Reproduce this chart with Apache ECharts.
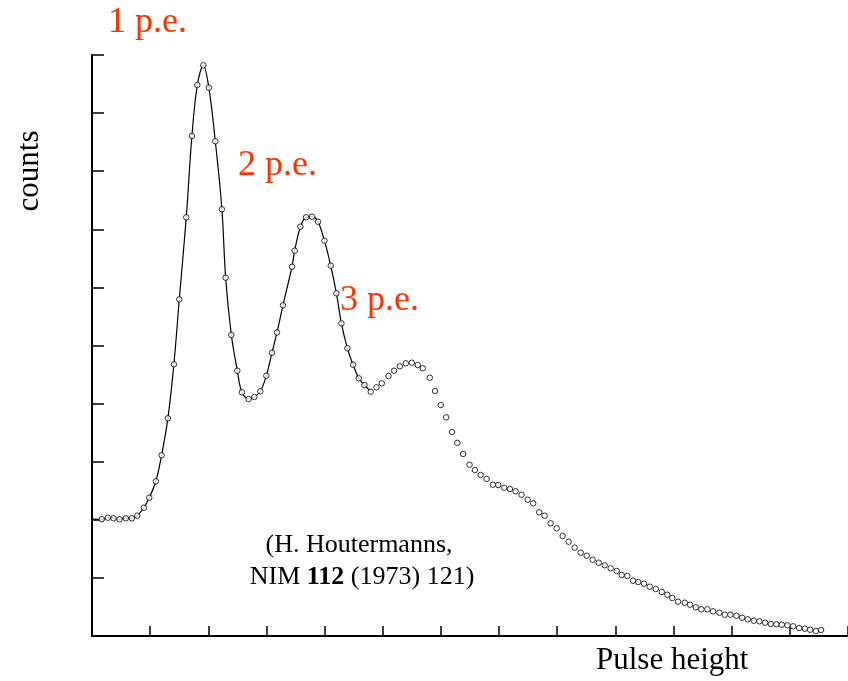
<!DOCTYPE html>
<html>
<head>
<meta charset="utf-8">
<script src="https://cdn.jsdelivr.net/npm/echarts@6/dist/echarts.min.js"></script>
<style>
  html, body { margin: 0; padding: 0; background: #ffffff; }
  #chart { width: 848px; height: 681px; }
</style>
</head>
<body>
<div id="chart"></div>
<script>
// Pulse height (axis units, one tick = 1) and counts (axis units, one tick = 1)
// Points joined by the drawn curve (1 p.e. and 2 p.e. peaks)
var curveX = [0.169,0.272,0.370,0.473,0.582,0.685,0.778,0.892,0.985,1.098,1.196,1.305,1.408,1.501,1.621,1.718,1.811,1.914,2.010,2.120,2.234,2.298,2.396,2.499,2.578,2.694,2.792,2.895,2.998,3.095,3.181,3.284,3.439,3.485,3.584,3.680,3.783,3.886,3.997,4.105,4.203,4.289,4.392,4.489,4.587,4.685,4.793];
var curveY = [2.009,2.036,2.026,2.009,2.026,2.026,2.071,2.208,2.380,2.663,3.110,3.747,4.676,5.795,7.206,8.606,9.484,9.823,9.437,8.515,7.344,6.167,5.181,4.566,4.195,4.079,4.114,4.212,4.480,4.876,5.224,5.692,6.356,6.632,7.045,7.206,7.217,7.131,6.804,6.373,5.898,5.382,4.952,4.670,4.435,4.320,4.205];
// Curve's lead-in from the counts axis
var curveStartX = 0;
var curveStartY = 2.01;
// Points drawn without a curve (3 p.e. bump and tail)
var tailX = [4.892,4.983,5.098,5.194,5.293,5.396,5.499,5.602,5.688,5.809,5.900,5.998,6.090,6.193,6.282,6.382,6.492,6.584,6.682,6.785,6.893,6.985,7.088,7.186,7.284,7.387,7.491,7.587,7.690,7.783,7.886,7.990,8.093,8.196,8.299,8.403,8.506,8.609,8.713,8.816,8.919,9.022,9.108,9.205,9.303,9.394,9.492,9.590,9.694,9.797,9.893,9.979,10.077,10.193,10.284,10.382,10.478,10.582,10.680,10.788,10.881,10.978,11.081,11.179,11.277,11.380,11.477,11.575,11.673,11.769,11.862,11.959,12.057,12.160,12.258,12.349,12.447,12.538];
var tailY = [4.281,4.349,4.475,4.566,4.642,4.694,4.704,4.664,4.608,4.446,4.217,3.976,3.764,3.511,3.325,3.133,2.948,2.857,2.771,2.702,2.604,2.599,2.552,2.530,2.491,2.432,2.346,2.284,2.129,2.071,1.940,1.854,1.721,1.623,1.520,1.434,1.382,1.313,1.262,1.217,1.165,1.119,1.050,1.033,0.952,0.929,0.900,0.849,0.809,0.757,0.711,0.654,0.590,0.573,0.539,0.494,0.460,0.460,0.425,0.401,0.367,0.367,0.349,0.315,0.287,0.263,0.253,0.229,0.207,0.201,0.194,0.184,0.167,0.138,0.126,0.108,0.086,0.103];

var peakLabels = ['1 p.e.', '2 p.e.', '3 p.e.'];
var yAxisName = 'counts';
var xAxisName = 'Pulse height';
var citationLine1 = '(H. Houtermanns,';
var citationVolume = '112';

function pairs(xs, ys) {
  var out = [];
  for (var i = 0; i < xs.length; i++) out.push([xs[i], ys[i]]);
  return out;
}

var curveData = [[curveStartX, curveStartY]].concat(pairs(curveX, curveY));
var pointData = pairs(curveX, curveY).concat(pairs(tailX, tailY));

var serif = '"Liberation Serif", "Times New Roman", "DejaVu Serif", serif';
var red = '#ff3300';

var chart = echarts.init(document.getElementById('chart'), null, { renderer: 'canvas' });
chart.setOption({
  animation: false,
  backgroundColor: '#ffffff',
  grid: { left: 92, right: 0, top: 55, bottom: 45 },
  xAxis: {
    type: 'value', min: 0, max: 13, interval: 1,
    axisLine: { show: true, onZero: false, lineStyle: { color: '#000', width: 2 } },
    axisTick: { show: true, inside: true, length: 10, lineStyle: { color: '#000', width: 1.5 } },
    axisLabel: { show: false },
    splitLine: { show: false }
  },
  yAxis: {
    type: 'value', min: 0, max: 10, interval: 1,
    axisLine: { show: true, onZero: false, lineStyle: { color: '#000', width: 2 } },
    axisTick: { show: true, inside: true, length: 12, lineStyle: { color: '#000', width: 1.5 } },
    axisLabel: { show: false },
    splitLine: { show: false }
  },
  series: [
    {
      type: 'line',
      data: curveData,
      smooth: 0.35,
      showSymbol: false,
      lineStyle: { color: '#000', width: 1.2 },
      z: 2
    },
    {
      type: 'scatter',
      data: pointData,
      symbol: 'circle',
      symbolSize: 5.5,
      itemStyle: { color: '#fff', borderColor: '#000', borderWidth: 1 },
      z: 3
    }
  ],
  graphic: [
    { type: 'text', left: 108, top: 5, style: { text: peakLabels[0], font: '36px ' + serif, fill: red } },
    { type: 'text', left: 238, top: 148, style: { text: peakLabels[1], font: '36px ' + serif, fill: red } },
    { type: 'text', left: 340, top: 283, style: { text: peakLabels[2], font: '36px ' + serif, fill: red } },
    { type: 'text', x: 30, y: 171, rotation: Math.PI / 2,
      style: { text: yAxisName, font: '31px ' + serif, fill: '#000', align: 'center', verticalAlign: 'middle' } },
    { type: 'text', left: 596, top: 645, style: { text: xAxisName, font: '31px ' + serif, fill: '#000' } },
    { type: 'text', x: 359, y: 545,
      style: { text: citationLine1, font: '26px ' + serif, fill: '#000', align: 'center', verticalAlign: 'middle' } },
    { type: 'text', x: 362, y: 577,
      style: { text: 'NIM {b|' + citationVolume + '} (1973) 121)', font: '26px ' + serif, fill: '#000', align: 'center', verticalAlign: 'middle',
        rich: { b: { font: 'bold 26px ' + serif, fill: '#000' } } } }
  ]
});
</script>
</body>
</html>
